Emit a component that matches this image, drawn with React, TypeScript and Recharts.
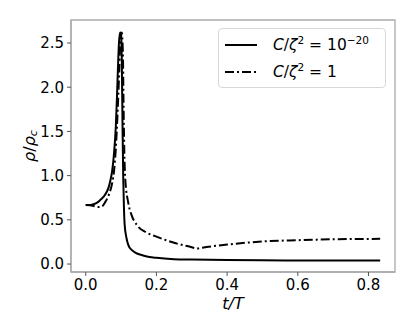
import React from 'react';
import { LineChart, Line, XAxis, YAxis, ReferenceArea, Legend } from 'recharts';

const solidT = [0, 0.01, 0.02, 0.03, 0.04, 0.05, 0.06, 0.065, 0.07, 0.075, 0.08, 0.085, 0.088, 0.091, 0.094, 0.097, 0.1, 0.102, 0.104, 0.106, 0.108, 0.11, 0.115, 0.12, 0.13, 0.14, 0.16, 0.18, 0.2, 0.25, 0.3, 0.4, 0.5, 0.6, 0.7, 0.833];
const solidRho = [0.667, 0.668, 0.675, 0.69, 0.72, 0.76, 0.82, 0.87, 0.95, 1.06, 1.25, 1.55, 1.85, 2.2, 2.5, 2.62, 2.6, 2.3, 1.6, 1.0, 0.65, 0.45, 0.3, 0.22, 0.16, 0.13, 0.1, 0.08, 0.07, 0.055, 0.05, 0.045, 0.042, 0.04, 0.04, 0.04];

const dashT = [0, 0.02, 0.035, 0.045, 0.055, 0.065, 0.075, 0.08, 0.085, 0.09, 0.095, 0.099, 0.102, 0.105, 0.107, 0.109, 0.112, 0.12, 0.13, 0.145, 0.17, 0.2, 0.25, 0.3, 0.315, 0.33, 0.4, 0.5, 0.6, 0.7, 0.833];
const dashRho = [0.667, 0.66, 0.645, 0.65, 0.7, 0.78, 0.92, 1.05, 1.3, 1.7, 2.2, 2.6, 2.62, 2.4, 1.8, 1.3, 0.95, 0.7, 0.55, 0.44, 0.36, 0.31, 0.24, 0.19, 0.175, 0.185, 0.22, 0.255, 0.27, 0.28, 0.285];

const xTicks = [0, 0.2, 0.4, 0.6, 0.8];
const yTicks = [0, 0.5, 1.0, 1.5, 2.0, 2.5];
const xDomain: [number, number] = [-0.0417, 0.875];
const yDomain: [number, number] = [-0.09, 2.76];

const solidData = solidT.map((t, i) => ({ t, rho: solidRho[i] }));
const dashData = dashT.map((t, i) => ({ t, rho: dashRho[i] }));

const FONT = 'DejaVu Sans';
const DASH = '9 3 2 3';

const XLabel = (props: any) => {
  const vb = props.viewBox || {};
  return (
    <text x={vb.x + vb.width / 2} y={vb.y + 37} textAnchor="middle" fontFamily={FONT} fontSize={16} fill="#000" fontStyle="italic">
      t/T
    </text>
  );
};

const YLabel = (props: any) => {
  const vb = props.viewBox || {};
  const cx = 29;
  const cy = vb.y + vb.height / 2;
  return (
    <text x={cx} y={cy} transform={`rotate(-90, ${cx}, ${cy})`} textAnchor="middle" dominantBaseline="central" fontFamily={FONT} fontSize={16} fill="#000">
      <tspan fontStyle="italic">ρ</tspan>
      <tspan>/</tspan>
      <tspan fontStyle="italic">ρ</tspan>
      <tspan fontStyle="italic" fontSize={11} dy={4}>c</tspan>
    </text>
  );
};

const LegendContent = () => {
  const row = (dash: string | undefined, exp: React.ReactNode) => (
    <div style={{ display: 'flex', alignItems: 'center', height: 27 }}>
      <svg width={48} height={10} style={{ marginLeft: 6 }}>
        <line x1={0} y1={5} x2={32} y2={5} stroke="#000" strokeWidth={2} strokeDasharray={dash} />
      </svg>
      <span style={{ fontFamily: FONT, fontSize: 15.5, color: '#000', whiteSpace: 'nowrap' }}>{exp}</span>
    </div>
  );
  return (
    <div style={{ border: '1px solid #d8d8d8', borderRadius: 4, background: 'rgba(255,255,255,0.8)', width: 168, height: 60, boxSizing: 'border-box', paddingTop: 2 }}>
      {row(undefined, <><i>C</i>/<i>ζ</i><sup style={{ fontSize: 10.5 }}>2</sup> = 10<sup style={{ fontSize: 10.5 }}>−20</sup></>)}
      {row(DASH, <><i>C</i>/<i>ζ</i><sup style={{ fontSize: 10.5 }}>2</sup> = 1</>)}
    </div>
  );
};

export default function App() {
  return (
    <div style={{ position: 'absolute', left: 0, top: 0, background: '#fff' }}>
      <LineChart width={415} height={332} margin={{ top: 20, right: 20, bottom: 0, left: 0 }}>
        <XAxis
          type="number"
          dataKey="t"
          domain={xDomain}
          ticks={xTicks}
          allowDataOverflow
          height={60}
          tickFormatter={(v: number) => v.toFixed(1)}
          tick={{ fontFamily: FONT, fontSize: 15, fill: '#000' }}
          tickSize={4}
          tickMargin={3}
          axisLine={{ stroke: '#aaaaaa', strokeWidth: 1.3 }}
          tickLine={{ stroke: '#555' }}
          label={<XLabel />}
        />
        <YAxis
          type="number"
          domain={yDomain}
          ticks={yTicks}
          allowDataOverflow
          width={71}
          tickFormatter={(v: number) => v.toFixed(1)}
          tick={{ fontFamily: FONT, fontSize: 15, fill: '#000' }}
          tickSize={4}
          tickMargin={3}
          axisLine={{ stroke: '#aaaaaa', strokeWidth: 1.3 }}
          tickLine={{ stroke: '#555' }}
          label={<YLabel />}
        />
        <ReferenceArea x1={xDomain[0]} x2={xDomain[1]} y1={yDomain[0]} y2={yDomain[1]} fill="none" stroke="#aaaaaa" strokeWidth={1.3} />
        <Line data={solidData} dataKey="rho" type="monotone" stroke="#000" strokeWidth={2} dot={false} isAnimationActive={false} />
        <Line data={dashData} dataKey="rho" type="monotone" stroke="#000" strokeWidth={2} strokeDasharray={DASH} dot={false} isAnimationActive={false} />
        <Legend layout="vertical" align="center" verticalAlign="middle" content={<LegendContent />} wrapperStyle={{ position: 'absolute', left: 218, top: 28, width: 168, height: 60 }} />
      </LineChart>
    </div>
  );
}
